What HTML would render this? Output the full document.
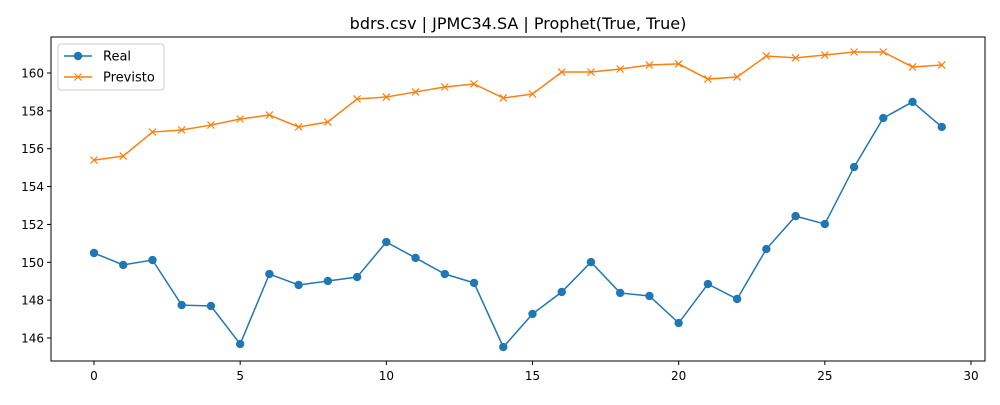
<!DOCTYPE html>
<html><head><meta charset="utf-8"><style>
body{margin:0;background:#fff;font-family:"Liberation Sans","DejaVu Sans",sans-serif}
svg text{font-family:"DejaVu Sans","Liberation Sans",sans-serif}
</style></head><body>
<svg id="c" width="1000" height="400" xmlns="http://www.w3.org/2000/svg"></svg>
<script>
const xCats=[0,1,2,3,4,5,6,7,8,9,10,11,12,13,14,15,16,17,18,19,20,21,22,23,24,25,26,27,28,29];
const realVals=[150.49,149.86,150.12,147.74,147.69,145.68,149.38,148.80,149.01,149.22,151.07,150.23,149.38,148.91,145.52,147.27,148.43,150.01,148.38,148.22,146.79,148.85,148.06,150.70,152.44,152.02,155.03,157.62,158.47,157.15];
const prevVals=[155.40,155.61,156.88,156.99,157.25,157.57,157.78,157.15,157.41,158.63,158.73,159.00,159.26,159.42,158.68,158.89,160.05,160.05,160.21,160.42,160.48,159.68,159.79,160.90,160.80,160.95,161.11,161.11,160.32,160.42];
const xTicks=[0,5,10,15,20,25,30];
const yTicks=[146,148,150,152,154,156,158,160];
const NS="http://www.w3.org/2000/svg";
const svg=document.getElementById('c');
const L=51,R=985,T=37,B=361;
const xs=v=>94+(v-0)*(971-94)/30;
const ys=v=>338-(v-146)*(338-73)/14;
function mk(t,a,p){const e=document.createElementNS(NS,t);for(const k in a)e.setAttribute(k,a[k]);(p||svg).appendChild(e);return e;}
const title=mk('text',{x:518,y:29,'text-anchor':'middle','font-size':16,fill:'#000'});
title.textContent='bdrs.csv | JPMC34.SA | Prophet(True, True)';


xTicks.forEach(t=>{const x=xs(t);
 const tk=mk('line',{x1:x,x2:x,y1:B,y2:B+4,stroke:'#000'});
 
 
 const lb=mk('text',{x:x,y:B+19,'text-anchor':'middle','font-size':12,fill:'#000'});lb.textContent=t;
 
 });
yTicks.forEach(t=>{const y=ys(t);
 const tk=mk('line',{x1:L-4,x2:L,y1:y,y2:y,stroke:'#000'});
 
 
 const lb=mk('text',{x:L-7,y:y+4.5,'text-anchor':'end','font-size':12,fill:'#000'});lb.textContent=t;
 
 });
const fr=mk('rect',{x:L,y:T,width:R-L,height:B-T,fill:'none',stroke:'#000','stroke-width':1});


const pr=mk('polyline',{points:xCats.map((c,i)=>xs(c)+','+ys(prevVals[i])).join(' '),fill:'none',stroke:'#ff7f0e','stroke-width':1.5});


xCats.forEach((c,i)=>{const x=xs(c),y=ys(prevVals[i]);
 const g=mk('path',{d:`M${x-3.5},${y-3.5}L${x+3.5},${y+3.5}M${x-3.5},${y+3.5}L${x+3.5},${y-3.5}`,stroke:'#ff7f0e','stroke-width':1.2});
 
 });
const rl=mk('polyline',{points:xCats.map((c,i)=>xs(c)+','+ys(realVals[i])).join(' '),fill:'none',stroke:'#1f77b4','stroke-width':1.5});


xCats.forEach((c,i)=>{
 const p=mk('circle',{cx:xs(c),cy:ys(realVals[i]),r:4.2,fill:'#1f77b4'});
 
 });
const lg=mk('g',{});


mk('rect',{x:58,y:44,width:106,height:46,rx:3,fill:'#fff',stroke:'#ccc'},lg);
mk('line',{x1:64,x2:92,y1:56,y2:56,stroke:'#1f77b4','stroke-width':1.5},lg);
mk('circle',{cx:78,cy:56,r:4.2,fill:'#1f77b4'},lg);
const t1=mk('text',{x:103,y:60.5,'font-size':13},lg);t1.textContent='Real';
mk('line',{x1:64,x2:92,y1:77,y2:77,stroke:'#ff7f0e','stroke-width':1.5},lg);
mk('path',{d:'M74.5,73.5L81.5,80.5M74.5,80.5L81.5,73.5',stroke:'#ff7f0e','stroke-width':1.2},lg);
const t2=mk('text',{x:103,y:81.5,'font-size':13},lg);t2.textContent='Previsto';
</script>
</body></html>
